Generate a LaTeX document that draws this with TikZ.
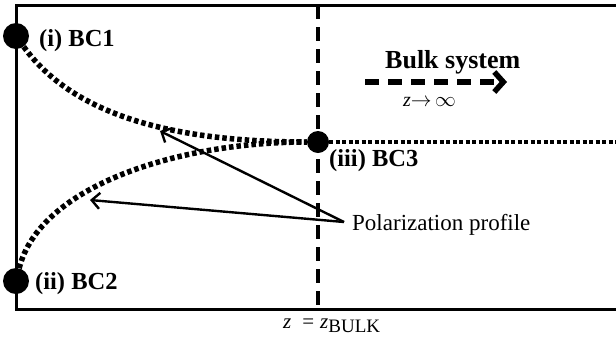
\documentclass[tikz,border=0pt]{standalone}
\usepackage{fontspec}
\setmainfont{Liberation Serif}
\usetikzlibrary{arrows.meta, positioning}

\begin{document}
\begin{tikzpicture}[
            x=1pt, y=-1pt,
            dot/.style={circle, fill=black, inner sep=0pt, minimum size=#1},
            bclabel/.style={anchor=base west, inner sep=0pt, font=\fontsize{24.5}{28}\selectfont\bfseries},
            profile/.style={line width=5.5pt, dash pattern=on 4.5pt off 3pt},
            pointer/.style={-{Straight Barb[length=8pt, width=16pt]}, line width=2.4pt}
        ]
            \useasboundingbox (0,0) rectangle (616,341);
            % frame and bulk boundary
            \draw[line width=3pt] (616,5) -- (16,5) -- (16,309) -- (616,309);
            \draw[line width=4pt, dash pattern=on 14pt off 8pt] (318,5) -- (318,309);

            \node[dot=26pt] (bcone) at (16,36) {};
            \node[dot=26pt] (bctwo) at (16,281) {};
            \node[dot=22pt] (bcthree) at (318,142) {};
            \coordinate (farright) at (616,142);

            \node[bclabel] (labelone) at (39,46) {(i) BC1};
            \node[bclabel] (labeltwo) at (35,289) {(ii) BC2};
            \node[bclabel] (labelthree) at (329,166) {(iii) BC3};

            % profiles
            \draw[profile] (bcone) .. controls (75,118) and (180,142) .. (bcthree);
            \draw[profile] (bctwo) .. controls (40,185) and (180,142) .. (bcthree);
            \draw[line width=4pt, dash pattern=on 4pt off 2.5pt] (bcthree) -- (farright);

            % bulk
            \node[bclabel, font=\fontsize{26}{30}\selectfont\bfseries] (bulk) at (385,68) {Bulk system};
            \coordinate (bulkstart) at (365,82);
            \coordinate (bulkend) at (507,82);
            \draw[line width=5.5pt, dash pattern=on 14pt off 9pt, -{Straight Barb[length=9pt, width=20pt]}] (bulkstart) -- (bulkend);
            \node[anchor=base west, inner sep=0pt, font=\fontsize{20}{24}\selectfont] (infty) at (403,106) {\textit{z}${\rightarrow}\,{\infty}$};

            % polarization pointers
            \node[anchor=base west, inner sep=0pt, font=\fontsize{23}{26}\selectfont] (polar) at (352,230) {Polarization profile};
            \coordinate (tail) at (344,222);
            \coordinate (tipone) at (160,131);
            \coordinate (tiptwo) at (90,200);
            \draw[pointer] (tail) -- (tipone);
            \draw[pointer] (tail) -- (tiptwo);

            \node[anchor=base west, inner sep=0pt, font=\fontsize{21}{24}\selectfont] (zbulk) at (283,328) {\textit{z}\hspace{11pt}=\hspace{6pt}\textit{z}\raisebox{-4pt}{\fontsize{19}{22}\selectfont BULK}};
        \end{tikzpicture}
\end{document}
